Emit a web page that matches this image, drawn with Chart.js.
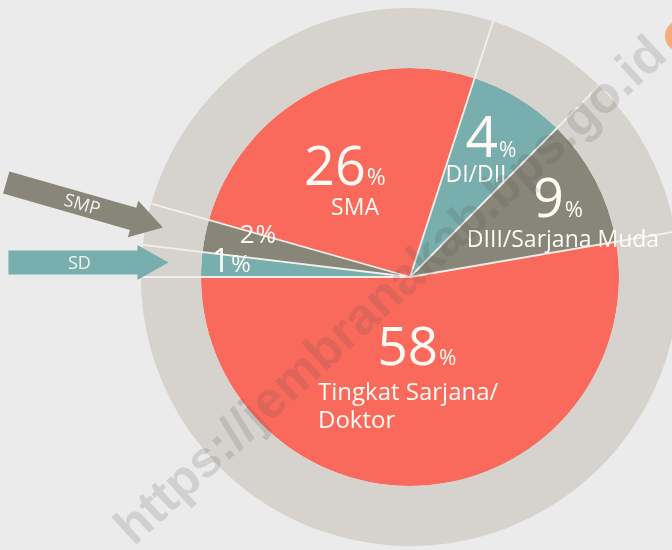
<!DOCTYPE html>
<html>
<head>
<meta charset="utf-8">
<script src="https://cdn.jsdelivr.net/npm/chart.js@4"></script>
<style>
  html, body { margin: 0; padding: 0; background: #ebebeb; overflow: hidden; }
  #wrap { position: absolute; left: 0; top: 0; width: 820px; height: 554px; }
</style>
</head>
<body>
<div id="wrap"><canvas id="chart" width="820" height="554"></canvas></div>
<script>
// categories, printed percentages and the share each slice actually takes in the graphic
const categories = ["SD", "SMP", "SMA", "DI/DII", "DIII/Sarjana Muda", "Tingkat Sarjana/Doktor"];
const percentText = [1, 2, 26, 4, 9, 58];
const sliceShare = [1.9, 2.5, 25.6, 7.4, 9.9, 52.7];
const nameLines = [[], [], ["SMA"], ["DI/DII"], ["DIII/Sarjana Muda"], ["Tingkat Sarjana/", "Doktor"]];

const RED = "#fa6a5c";
const TEAL = "#78aead";
const OLIVE = "#888579";
const RING = "#d6d3ce";
const LINE = "#f3efe9";
const FONT = "'Open Sans', 'Noto Sans', sans-serif";

// where the texts sit, relative to the pie centre
const labelLayout = [
  { dx: -179, dy: -5, num: 33, pct: 24 },
  { dx: -152, dy: -34, num: 26, pct: 25 },
  { dx: -65, dy: -92, num: 54, pct: 23 },
  { dx: 81, dy: -120, num: 57, pct: 21 },
  { dx: 148, dy: -60, num: 54, pct: 22 },
  { dx: 7, dy: 88, num: 53, pct: 21 },
];
const nameLayout = [
  null,
  null,
  { x: -55, y: -62, size: 23, align: "center" },
  { x: 66, y: -95, size: 23, align: "center" },
  { x: 153, y: -30, size: 23, align: "center" },
  { x: -92, y: 123, size: 24, align: "left", lh: 28 },
];

// arrows pointing at the two small slices
const arrows = [
  { slice: 1, r: 252, angle: 16, len: 163, body: 11.5, headLen: 31, head: 19, color: OLIVE, text: "SMP", size: 18, textAt: 84 },
  { slice: 0, r: 242, angle: 0, len: 160, body: 12, headLen: 31, head: 17.5, color: TEAL, text: "SD", size: 18, textAt: 89 },
];

const slicesPlugin = {
  id: "slices",
  afterDatasetsDraw(chart) {
    const ctx = chart.ctx;
    const ring = chart.getDatasetMeta(0).data;
    const pie = chart.getDatasetMeta(1).data;

    // white dividing lines through pie and ring
    ctx.save();
    ctx.strokeStyle = LINE;
    ctx.lineWidth = 1.8;
    pie.forEach((arc) => {
      const R = ring[0].outerRadius;
      ctx.beginPath();
      ctx.moveTo(arc.x, arc.y);
      ctx.lineTo(arc.x + R * Math.cos(arc.startAngle), arc.y + R * Math.sin(arc.startAngle));
      ctx.stroke();
    });
    ctx.restore();

    // arrows
    arrows.forEach((a) => {
      const arc = pie[a.slice];
      const mid = (arc.startAngle + arc.endAngle) / 2;
      const tx = arc.x + a.r * Math.cos(mid);
      const ty = arc.y + a.r * Math.sin(mid);
      ctx.save();
      ctx.translate(tx, ty);
      ctx.rotate((a.angle * Math.PI) / 180);
      ctx.fillStyle = a.color;
      ctx.beginPath();
      ctx.moveTo(0, 0);
      ctx.lineTo(-a.headLen, -a.head);
      ctx.lineTo(-a.headLen, -a.body);
      ctx.lineTo(-a.len, -a.body);
      ctx.lineTo(-a.len, a.body);
      ctx.lineTo(-a.headLen, a.body);
      ctx.lineTo(-a.headLen, a.head);
      ctx.closePath();
      ctx.fill();
      ctx.fillStyle = "#f4f2ee";
      ctx.font = a.size + "px " + FONT;
      ctx.textAlign = "center";
      ctx.textBaseline = "middle";
      ctx.fillText(a.text, -a.textAt, 1);
      ctx.restore();
    });

    // percentages and names
    ctx.save();
    ctx.fillStyle = "#fffaf4";
    ctx.textBaseline = "alphabetic";
    pie.forEach((arc, i) => {
      const L = labelLayout[i];
      const cx = arc.x, cy = arc.y;
      ctx.font = L.num + "px " + FONT;
      const numStr = String(percentText[i]);
      const nw = ctx.measureText(numStr).width;
      ctx.font = L.pct + "px " + FONT;
      const pw = ctx.measureText("%").width;
      const x0 = cx + L.dx - (nw + pw + 1) / 2;
      ctx.textAlign = "left";
      ctx.font = L.num + "px " + FONT;
      ctx.fillText(numStr, x0, cy + L.dy);
      ctx.font = L.pct + "px " + FONT;
      ctx.fillText("%", x0 + nw + 1, cy + L.dy);
      const N = nameLayout[i];
      if (N) {
        ctx.font = N.size + "px " + FONT;
        ctx.textAlign = N.align;
        nameLines[i].forEach((line, k) => {
          ctx.fillText(line, cx + N.x, cy + N.y + k * (N.lh || 0));
        });
      }
    });
    ctx.restore();
  },
  afterDraw(chart) {
    const ctx = chart.ctx;
    ctx.save();
    // small orange mark at the top right
    ctx.fillStyle = "#f6ad7a";
    ctx.beginPath();
    ctx.arc(681, 36, 16, 0, Math.PI * 2);
    ctx.fill();
    // watermark
    ctx.translate(392, 292);
    ctx.rotate((-42.4 * Math.PI) / 180);
    ctx.font = "bold 51px 'Liberation Sans', Arial, sans-serif";
    ctx.fillStyle = "rgba(80,80,80,0.17)";
    ctx.textAlign = "center";
    ctx.textBaseline = "middle";
    ctx.fillText("https://jembranakab.bps.go.id", 0, 0);
    ctx.restore();
  },
};

new Chart(document.getElementById("chart"), {
  type: "doughnut",
  data: {
    labels: categories,
    datasets: [
      {
        data: sliceShare,
        backgroundColor: RING,
        borderWidth: 0,
        weight: 60,
      },
      {
        data: sliceShare,
        backgroundColor: [TEAL, OLIVE, RED, TEAL, OLIVE, RED],
        borderWidth: 0,
        weight: 209,
      },
    ],
  },
  options: {
    responsive: false,
    animation: false,
    rotation: 270,
    cutout: 0,
    radius: 269,
    hoverOffset: 0,
    layout: { padding: 0 },
    plugins: {
      legend: { display: false },
      tooltip: { enabled: false },
    },
  },
  plugins: [slicesPlugin],
});
</script>
</body>
</html>
